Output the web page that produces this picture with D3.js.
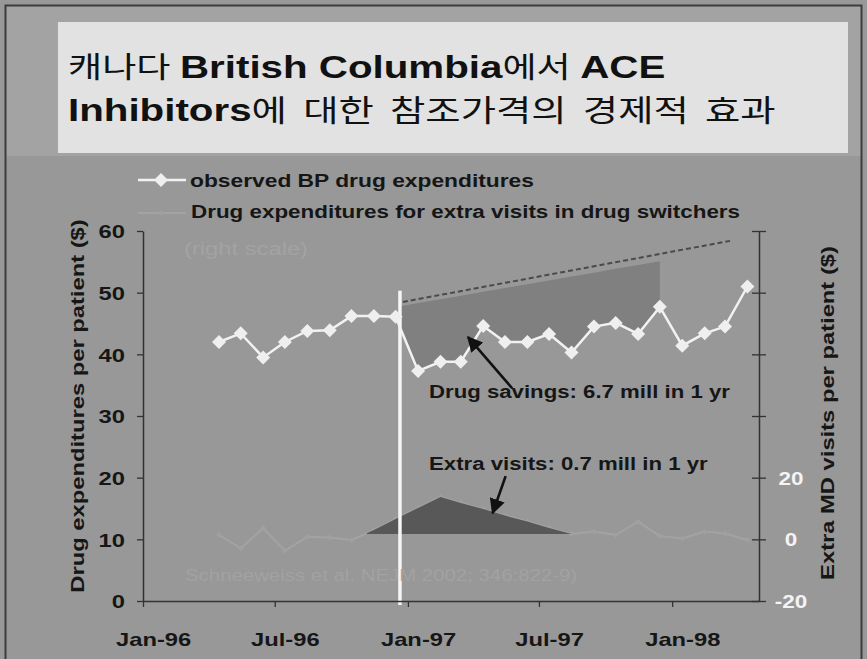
<!DOCTYPE html>
<html>
<head>
<meta charset="utf-8">
<script src="https://cdn.jsdelivr.net/npm/d3@7"></script>
<style>
  body { margin: 0; background: #989898; }
  svg { display: block; }
</style>
</head>
<body>
<svg id="chart" width="867" height="659"></svg>
<script>
// ---- data -------------------------------------------------------------
const months = ["1996-04","1996-05","1996-06","1996-07","1996-08","1996-09","1996-10",
  "1996-11","1996-12","1997-01","1997-02","1997-03","1997-04","1997-05","1997-06",
  "1997-07","1997-08","1997-09","1997-10","1997-11","1997-12","1998-01","1998-02",
  "1998-03","1998-04"];
// observed BP drug expenditures per patient ($, left scale)
const observedSpend = [42.0, 43.4, 39.5, 42.0, 43.8, 43.9, 46.2, 46.2, 46.1, 37.3, 38.8,
  38.8, 44.6, 42.0, 42.0, 43.3, 40.3, 44.5, 45.1, 43.3, 47.7, 41.4, 43.4, 44.5, 51.0];
// drug expenditures for extra MD visits in drug switchers ($, right scale)
const extraVisits = [1.4, -2.9, 3.6, -3.7, 0.8, 0.6, -0.2, 3.0, 6.6, 10.2, 13.7, 11.8,
  9.8, 7.7, 5.8, 3.7, 1.7, 2.5, 1.4, 5.7, 1.1, 0.3, 2.5, 1.9, -0.2];
// expected trend without reference pricing (dashed)
const projectedDates = ["1996-12-25", "1998-03-22"];
const projectedSpend = [48.5, 58.4];
// upper edge of the savings band
const savingsDates = ["1996-12-21", "1997-12-15"];
const savingsTop = [47.8, 55.1];
const policyDate = "1996-12-21";
const visitsShadeDates = ["1996-11-05", "1997-08-15"];
const visitsBaseline = 1.7;

const leftTicks = [0, 10, 20, 30, 40, 50, 60];
const rightTicks = [-20, 0, 20, 40, 60, 80, 100];
const rightTickLabels = ["-20", "0", "20", "", "", "", ""];
const xTickDates = ["1996-01-01", "1996-07-01", "1997-01-01", "1997-07-01", "1998-01-01"];
const xTickLabels = ["Jan-96", "Jul-96", "Jan-97", "Jul-97", "Jan-98"];

// ---- setup ------------------------------------------------------------
const parse = d3.timeParse("%Y-%m-%d");
const mid = m => parse(m + "-15");
const svg = d3.select("#chart");
const W = 867, H = 659;
const FONT = "'Liberation Sans', Arial, sans-serif";
const KR = "'Noto Sans CJK KR', sans-serif";
const K = 1.25; // horizontal widening of the slide lettering

const x = d3.scaleTime()
  .domain([parse("1996-01-01"), parse("1998-05-01")])
  .range([143, 759]);
const y = d3.scaleLinear().domain([0, 60]).range([601, 231]);
const yR = d3.scaleLinear().domain([-20, 100]).range([601, 231]);

function widen(sel, k) {
  sel.each(function () {
    const t = d3.select(this);
    const tx = +t.attr("x") || 0;
    t.attr("transform", `translate(${tx},0) scale(${k},1) translate(${-tx},0)`);
  });
}
function label(g, str, px, py, opt = {}) {
  const t = g.append("text")
    .attr("transform", `translate(${px},${py})` + (opt.rotate ? ` rotate(${opt.rotate})` : "") + ` scale(${opt.k || K},1)`)
    .attr("font-family", opt.family || FONT)
    .attr("font-weight", opt.weight || "bold")
    .attr("font-size", opt.size || 19)
    .attr("text-anchor", opt.anchor || "start")
    .attr("fill", opt.fill || "#161616")
    .text(str);
  return t;
}

// ---- background & title -----------------------------------------------
svg.append("rect").attr("width", W).attr("height", H).attr("fill", "#989898");
svg.append("rect").attr("x", 6).attr("y", 6).attr("width", W - 12).attr("height", 150).attr("fill", "#a3a3a3");
svg.append("rect").attr("x", 5.5).attr("y", 5.5).attr("width", W - 11).attr("height", H + 10)
  .attr("fill", "none").attr("stroke", "#3c3c3c").attr("stroke-width", 2);
svg.append("rect").attr("x", 58).attr("y", 22).attr("width", 790).attr("height", 131).attr("fill", "#e2e2e2");

const title = svg.append("g");
function titleLine(parts, px, py, krSize, gap) {
  const t = title.append("text")
    .attr("transform", `translate(${px},${py}) scale(1.28,1)`)
    .attr("fill", "#111");
  parts.forEach(([s, kr]) => {
    t.append("tspan")
      .attr("font-family", kr ? KR : FONT)
      .attr("font-weight", kr ? 400 : "bold")
      .attr("font-size", kr ? krSize : 31.5)
      .attr("word-spacing", kr ? gap : 0)
      .text(s);
  });
}
titleLine([["캐나다 ", 1], ["British Columbia", 0], ["에서 ", 1], ["ACE", 0]], 68, 78, 29, 1);
titleLine([["Inhibitors", 0], ["에 대한 참조가격의 경제적 효과", 1]], 68, 121, 30, 6);

// ---- plot ---------------------------------------------------------------
const plot = svg.append("g");
const obs = months.map((m, i) => ({ date: mid(m), v: observedSpend[i] }));
const vis = months.map((m, i) => ({ date: mid(m), v: extraVisits[i] }));

// savings band between expected trend and observed spending
const topEdge = d3.scaleTime()
  .domain(savingsDates.map(parse)).range(savingsTop);
const sav0 = parse(savingsDates[0]), sav1 = parse(savingsDates[1]);
svg.append("clipPath").attr("id", "savClip").append("rect")
  .attr("x", x(sav0)).attr("y", 0).attr("width", x(sav1) - x(sav0) + 0.5).attr("height", H);
plot.append("path")
  .datum(obs.filter(d => d.date >= parse("1996-11-01") && d.date <= sav1))
  .attr("clip-path", "url(#savClip)")
  .attr("fill", "#808080")
  .attr("d", d3.area().x(d => x(d.date)).y0(d => y(d.v)).y1(d => y(topEdge(d.date))));

// expected trend
plot.append("path")
  .datum(projectedDates.map((d, i) => ({ date: parse(d), v: projectedSpend[i] })))
  .attr("fill", "none").attr("stroke", "#4a4a4a").attr("stroke-width", 2)
  .attr("stroke-dasharray", "5,3")
  .attr("d", d3.line().x(d => x(d.date)).y(d => y(d.v)));

// extra visits (right scale)
plot.append("path").datum(vis)
  .attr("fill", "none").attr("stroke", "#a3a3a3").attr("stroke-width", 2)
  .attr("d", d3.line().x(d => x(d.date)).y(d => yR(d.v)));
plot.selectAll(".vm").data(vis).join("path")
  .attr("transform", d => `translate(${x(d.date)},${yR(d.v)})`)
  .attr("d", "M0,-3L3,0L0,3L-3,0Z").attr("fill", "#a0a0a0");

const vs0 = parse(visitsShadeDates[0]), vs1 = parse(visitsShadeDates[1]);
svg.append("clipPath").attr("id", "visClip").append("rect")
  .attr("x", x(vs0)).attr("y", 0).attr("width", x(vs1) - x(vs0)).attr("height", H);
plot.append("path")
  .datum(vis.filter(d => d.date >= parse("1996-10-01") && d.date <= parse("1997-09-30")))
  .attr("clip-path", "url(#visClip)")
  .attr("fill", "#585858")
  .attr("d", d3.area().x(d => x(d.date)).y0(yR(visitsBaseline)).y1(d => yR(d.v)));

// ---- axes ----------------------------------------------------------------
const axisStyle = g => {
  g.select(".domain").attr("stroke", "#333").attr("stroke-width", 1.5);
  g.selectAll(".tick line").attr("stroke", "#333").attr("stroke-width", 1.3);
  g.selectAll("text").attr("font-family", FONT).attr("font-weight", "bold")
    .attr("font-size", 19).attr("fill", "#161616");
};
const gL = svg.append("g").attr("transform", "translate(143,0)")
  .call(d3.axisLeft(y).tickValues(leftTicks).tickSize(6).tickSizeOuter(0).tickPadding(12))
  .call(axisStyle);
gL.selectAll(".tick text").attr("dy", "0.36em").call(widen, K);

const gR = svg.append("g").attr("transform", "translate(759,0)")
  .call(d3.axisRight(yR).tickValues(rightTicks).tickSize(7).tickSizeOuter(0).tickFormat(""))
  .call(axisStyle);
gR.selectAll(".tick line").attr("x1", -7);
rightTicks.forEach((v, i) => {
  if (rightTickLabels[i]) label(svg, rightTickLabels[i], 791, yR(v) + 7, { anchor: "middle", fill: "#f4f4f4", size: 18 });
});

const labelShift = x(parse("1996-01-15")) - x(parse("1996-01-01"));
const gB = svg.append("g").attr("transform", "translate(0,601)")
  .call(d3.axisBottom(x).tickValues(xTickDates.map(parse))
    .tickFormat((d, i) => xTickLabels[i]).tickSize(6).tickSizeOuter(0).tickPadding(26))
  .call(axisStyle);
gB.selectAll(".tick text").attr("x", labelShift).call(widen, K);

// axis titles
label(svg, "Drug expenditures per patient ($)", 84, 406, { rotate: -90, anchor: "middle" });
label(svg, "Extra MD visits per patient ($)", 834, 413, { rotate: -90, anchor: "middle" });

// policy start line
plot.append("line")
  .attr("x1", x(parse(policyDate))).attr("x2", x(parse(policyDate)))
  .attr("y1", y(50.3)).attr("y2", 605)
  .attr("stroke", "#f6f6f6").attr("stroke-width", 3.5);

// observed spending
plot.append("path").datum(obs)
  .attr("fill", "none").attr("stroke", "#f2f2f2").attr("stroke-width", 2.5)
  .attr("d", d3.line().x(d => x(d.date)).y(d => y(d.v)));
plot.selectAll(".om").data(obs).join("path")
  .attr("transform", d => `translate(${x(d.date)},${y(d.v)})`)
  .attr("d", "M0,-7L7,0L0,7L-7,0Z").attr("fill", "#efefef");

// ---- annotations -------------------------------------------------------
const defs = svg.append("defs");
defs.append("marker").attr("id", "head").attr("viewBox", "0 0 10 10")
  .attr("refX", 9).attr("refY", 5).attr("markerWidth", 6).attr("markerHeight", 6)
  .attr("markerUnits", "strokeWidth").attr("orient", "auto")
  .append("path").attr("d", "M0,0L10,5L0,10Z").attr("fill", "#111");

function arrow(d0, v0, scale0, d1, v1, scale1) {
  plot.append("line")
    .attr("x1", x(parse(d0))).attr("y1", scale0(v0))
    .attr("x2", x(parse(d1))).attr("y2", scale1(v1))
    .attr("stroke", "#111").attr("stroke-width", 2.6)
    .attr("marker-end", "url(#head)");
}
arrow("1997-05-25", 34.5, y, "1997-03-25", 42.8, y);
arrow("1997-05-16", 20.5, yR, "1997-04-28", 8.5, yR);

label(svg, "Drug savings: 6.7 mill in 1 yr", 429, 398, { size: 18.5, k: 1.2 });
label(svg, "Extra visits: 0.7 mill in 1 yr", 429, 470, { size: 18.5, k: 1.2 });
label(svg, "Schneeweiss et al, NEJM 2002; 346:822-9)", 185, 581, { size: 17, k: 1.2, fill: "#a2a2a2", weight: "normal" });

// ---- legend ------------------------------------------------------------
const lg = svg.append("g");
lg.append("line").attr("x1", 138).attr("x2", 186).attr("y1", 180).attr("y2", 180)
  .attr("stroke", "#f2f2f2").attr("stroke-width", 2.5);
lg.append("path").attr("transform", "translate(161,180)")
  .attr("d", "M0,-7L7,0L0,7L-7,0Z").attr("fill", "#efefef");
label(lg, "observed BP drug expenditures", 190, 187, { size: 19, k: 1.2 });
lg.append("line").attr("x1", 138).attr("x2", 186).attr("y1", 213).attr("y2", 213)
  .attr("stroke", "#a3a3a3").attr("stroke-width", 2);
lg.append("path").attr("transform", "translate(161,213)")
  .attr("d", "M0,-3L3,0L0,3L-3,0Z").attr("fill", "#a0a0a0");
label(lg, "Drug expenditures for extra visits in drug switchers", 191, 218, { size: 19, k: 1.18 });
label(lg, "(right scale)", 184, 255, { size: 19, k: 1.25, fill: "#a3a3a3", weight: "normal" });
</script>
</body>
</html>
